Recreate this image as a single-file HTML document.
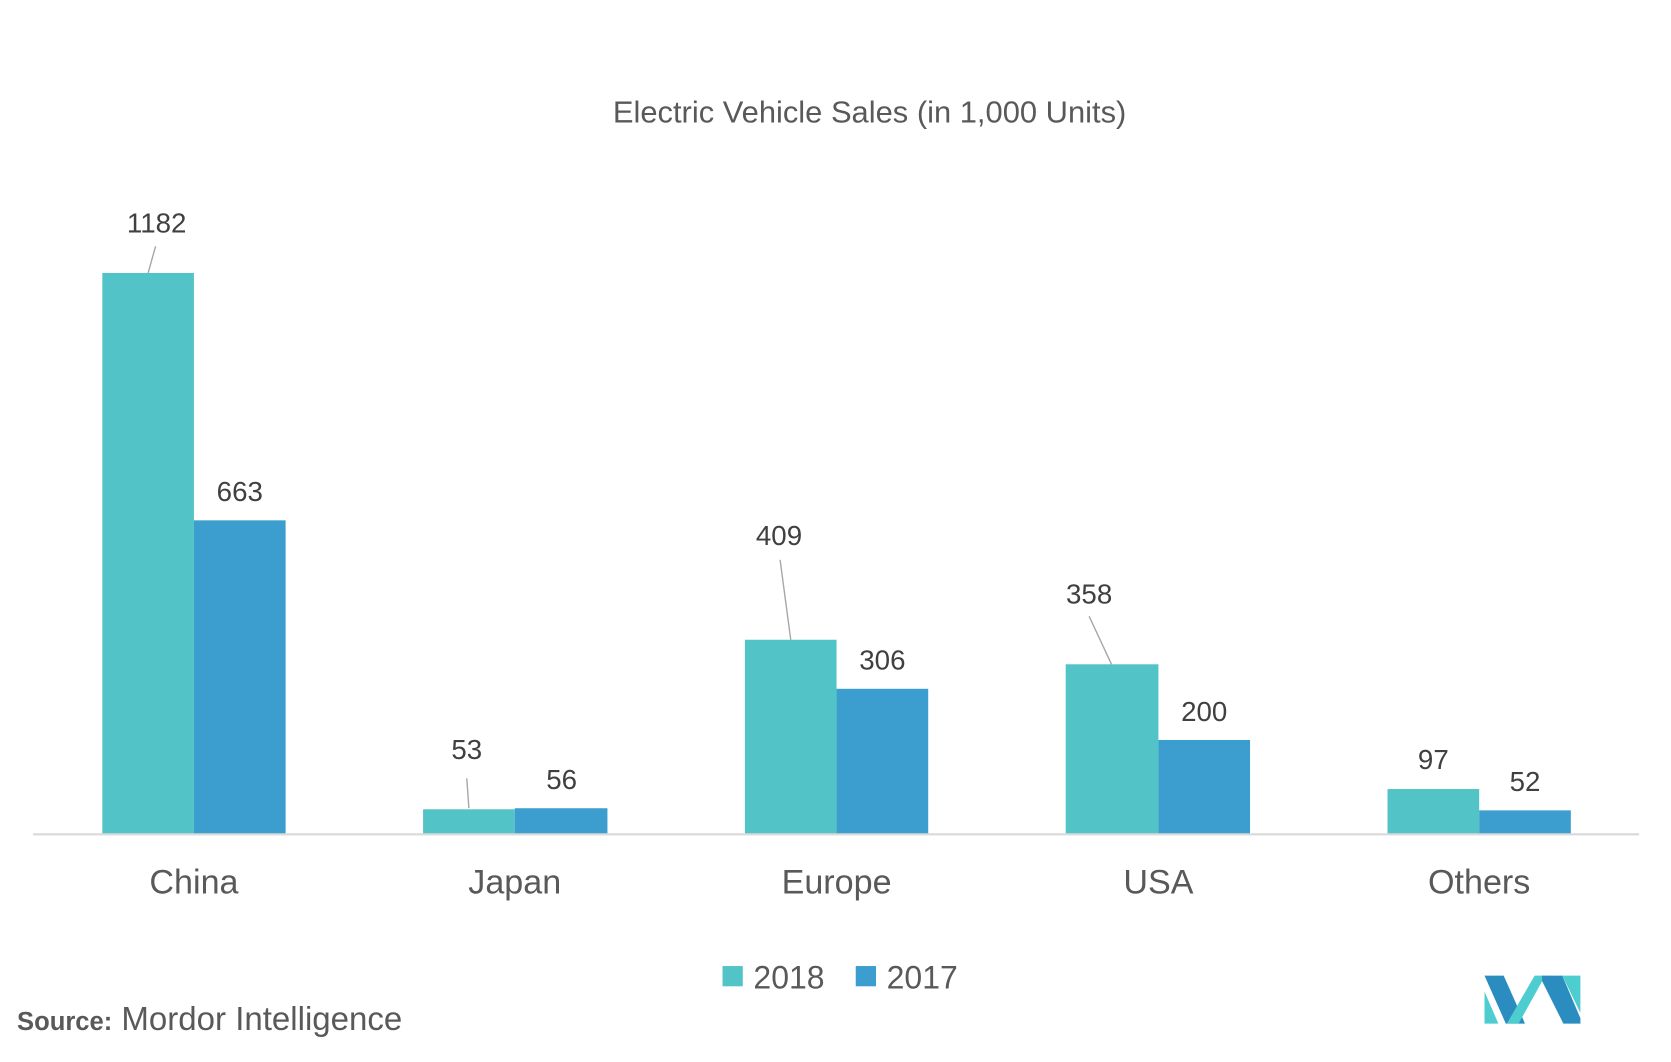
<!DOCTYPE html>
<html><head><meta charset="utf-8"><style>html,body{margin:0;padding:0;background:#fff;overflow:hidden}svg{display:block}</style></head>
<body>
<svg width="1671" height="1062" viewBox="0 0 1568 996" preserveAspectRatio="none" xmlns="http://www.w3.org/2000/svg" font-family="Liberation Sans, sans-serif">
<rect width="1568" height="996" fill="#fff"/>
<text x="816" y="115" font-size="29" fill="#595959" text-anchor="middle">Electric Vehicle Sales (in 1,000 Units)</text>
<g fill="#52c3c6">
<rect x="96" y="256" width="86" height="526"/>
<rect x="397" y="759" width="86" height="23"/>
<rect x="699" y="600" width="86" height="182"/>
<rect x="1000" y="623" width="87" height="159"/>
<rect x="1302" y="740" width="86" height="42"/>
</g>
<g fill="#3c9ecf">
<rect x="182" y="488" width="86" height="294"/>
<rect x="483" y="758" width="87" height="24"/>
<rect x="785" y="646" width="86" height="136"/>
<rect x="1087" y="694" width="86" height="88"/>
<rect x="1388" y="760" width="86" height="22"/>
</g>
<line x1="31" y1="782.5" x2="1538" y2="782.5" stroke="#d9d9d9" stroke-width="2"/>
<g stroke="#a6a6a6" stroke-width="1.3">
<line x1="146" y1="231" x2="139" y2="256"/>
<line x1="438" y1="730" x2="440" y2="758"/>
<line x1="732" y1="525" x2="742" y2="600"/>
<line x1="1022" y1="578" x2="1043" y2="623"/>
</g>
<g font-size="26" fill="#404040" text-anchor="middle">
<text x="147" y="218">1182</text>
<text x="225" y="470">663</text>
<text x="438" y="712">53</text>
<text x="527" y="740">56</text>
<text x="731" y="511">409</text>
<text x="828" y="628">306</text>
<text x="1022" y="566">358</text>
<text x="1130" y="676">200</text>
<text x="1345" y="721">97</text>
<text x="1431" y="742">52</text>
</g>
<g font-size="32" fill="#595959" text-anchor="middle">
<text x="182" y="838">China</text>
<text x="483" y="838">Japan</text>
<text x="785" y="838">Europe</text>
<text x="1087" y="838">USA</text>
<text x="1388" y="838">Others</text>
</g>
<rect x="678" y="906" width="19" height="19" fill="#52c3c6"/>
<text x="707" y="927" font-size="30" fill="#595959">2018</text>
<rect x="803" y="906" width="19" height="19" fill="#3c9ecf"/>
<text x="832" y="927" font-size="30" fill="#595959">2017</text>
<text x="16" y="966" font-size="24" fill="#595959"><tspan font-weight="bold">Source:</tspan><tspan font-size="31"> Mordor Intelligence</tspan></text>
<g>
<polygon points="1393,915 1411,915 1431,960 1413,960" fill="#2b8dbf"/>
<polygon points="1393,930 1406,960 1393,960" fill="#4ecdd0"/>
<polygon points="1414,960 1440,915 1450,915 1425,960" fill="#4ecdd0"/>
<polygon points="1447,915 1466,915 1483,955 1483,960 1467,960 1447,920" fill="#2b8dbf"/>
<polygon points="1466,915 1483,915 1483,950" fill="#4ecdd0"/>
</g>
</svg>
</body></html>
